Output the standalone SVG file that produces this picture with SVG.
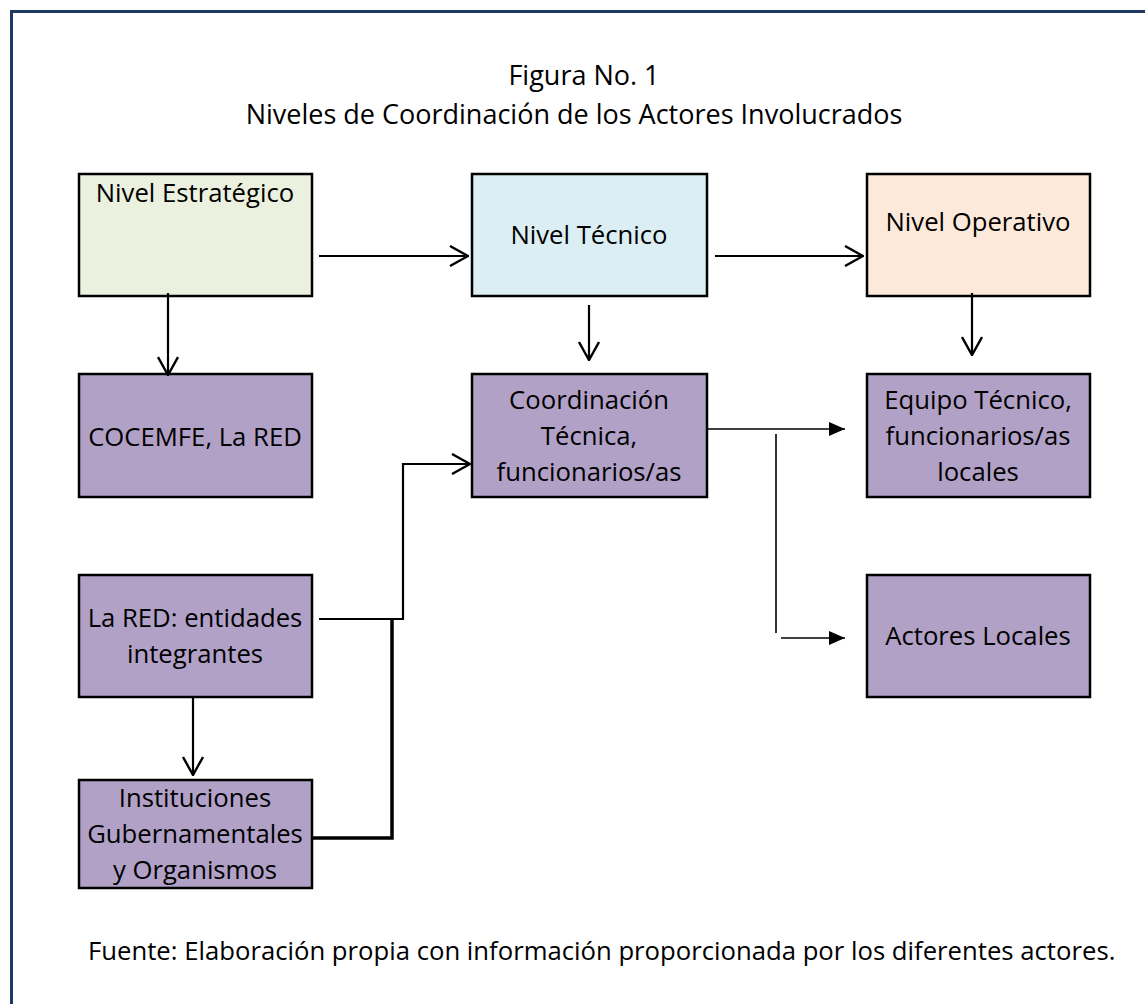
<svg xmlns="http://www.w3.org/2000/svg" width="1145" height="1004" viewBox="0 0 1145 1004">
<style>
text{font-family:"Open Sans","Noto Sans",sans-serif;font-size:25.7px;fill:#000;}
.t{font-size:27px;}
.c{text-anchor:middle;}
.box{stroke:#000;stroke-width:2.5;}
.purple{fill:#B2A1C7;}
.ln{fill:none;stroke:#000;stroke-width:2.2;}
.thin{fill:none;stroke:#000;stroke-width:1.6;}
.thick{fill:none;stroke:#000;stroke-width:3.5;}
</style>
<defs>
<marker id="open" markerUnits="userSpaceOnUse" viewBox="0 0 20 22" refX="19" refY="11" markerWidth="20" markerHeight="22" orient="auto">
<path d="M1,1 L19,11 L1,21" fill="none" stroke="#000" stroke-width="2.4"/>
</marker>
<marker id="solid" markerUnits="userSpaceOnUse" viewBox="0 0 16 14" refX="16" refY="7" markerWidth="16" markerHeight="14" orient="auto">
<path d="M0,0 L16,7 L0,14 Z" fill="#000"/>
</marker>
</defs>
<rect width="1145" height="1004" fill="#fff"/>
<path d="M11.5,1010 V11.5 H1150" fill="none" stroke="#1F3864" stroke-width="3"/>
<g id="title">
<text class="c t" x="584" y="85">Figura No. 1</text>
<text class="c t" x="574" y="124">Niveles de Coordinación de los Actores Involucrados</text>
</g>
<g id="n-estrategico"><rect class="box" x="79" y="174" width="233" height="122" fill="#EBF1DE"/><text class="c" x="195" y="202">Nivel Estratégico</text></g>
<g id="n-tecnico"><rect class="box" x="472" y="174" width="235" height="122" fill="#DAEEF3"/><text class="c" x="589" y="244">Nivel Técnico</text></g>
<g id="n-operativo"><rect class="box" x="867" y="174" width="223" height="122" fill="#FDE9D9"/><text class="c" x="978" y="231">Nivel Operativo</text></g>
<g id="n-cocemfe"><rect class="box purple" x="79" y="374" width="233" height="123"/><text class="c" x="195" y="446">COCEMFE, La RED</text></g>
<g id="n-coordinacion"><rect class="box purple" x="472" y="374" width="235" height="123"/><text class="c" x="589" y="409">Coordinación</text><text class="c" x="589" y="445">Técnica,</text><text class="c" x="589" y="481">funcionarios/as</text></g>
<g id="n-equipo"><rect class="box purple" x="867" y="374" width="223" height="123"/><text class="c" x="978" y="409">Equipo Técnico,</text><text class="c" x="978" y="445">funcionarios/as</text><text class="c" x="978" y="481">locales</text></g>
<g id="n-lared"><rect class="box purple" x="79" y="575" width="233" height="122"/><text class="c" x="195" y="627">La RED: entidades</text><text class="c" x="195" y="663">integrantes</text></g>
<g id="n-actores"><rect class="box purple" x="867" y="575" width="223" height="122"/><text class="c" x="978" y="645">Actores Locales</text></g>
<g id="n-instituciones"><rect class="box purple" x="79" y="780" width="233" height="108"/><text class="c" x="195" y="807">Instituciones</text><text class="c" x="195" y="843">Gubernamentales</text><text class="c" x="195" y="879">y Organismos</text></g>
<g id="connectors">
<path class="ln" d="M319,256 H468" marker-end="url(#open)"/>
<path class="ln" d="M715,256 H863" marker-end="url(#open)"/>
<path class="ln" d="M168,293 V375" marker-end="url(#open)"/>
<path class="ln" d="M589,305 V360" marker-end="url(#open)"/>
<path class="ln" d="M972,293 V355" marker-end="url(#open)"/>
<path class="ln" d="M193,697 V775" marker-end="url(#open)"/>
<path class="ln" d="M319,619 H403 V464 H470" marker-end="url(#open)"/>
<path class="thick" d="M392,619 V838 H313"/>
<path class="thin" d="M707,429 H845" marker-end="url(#solid)"/>
<path class="thin" d="M776,434 V633"/>
<path class="thin" d="M781,638 H845" marker-end="url(#solid)"/>
</g>
<text id="footer" x="88" y="960">Fuente: Elaboración propia con información proporcionada por los diferentes actores.</text>
</svg>
